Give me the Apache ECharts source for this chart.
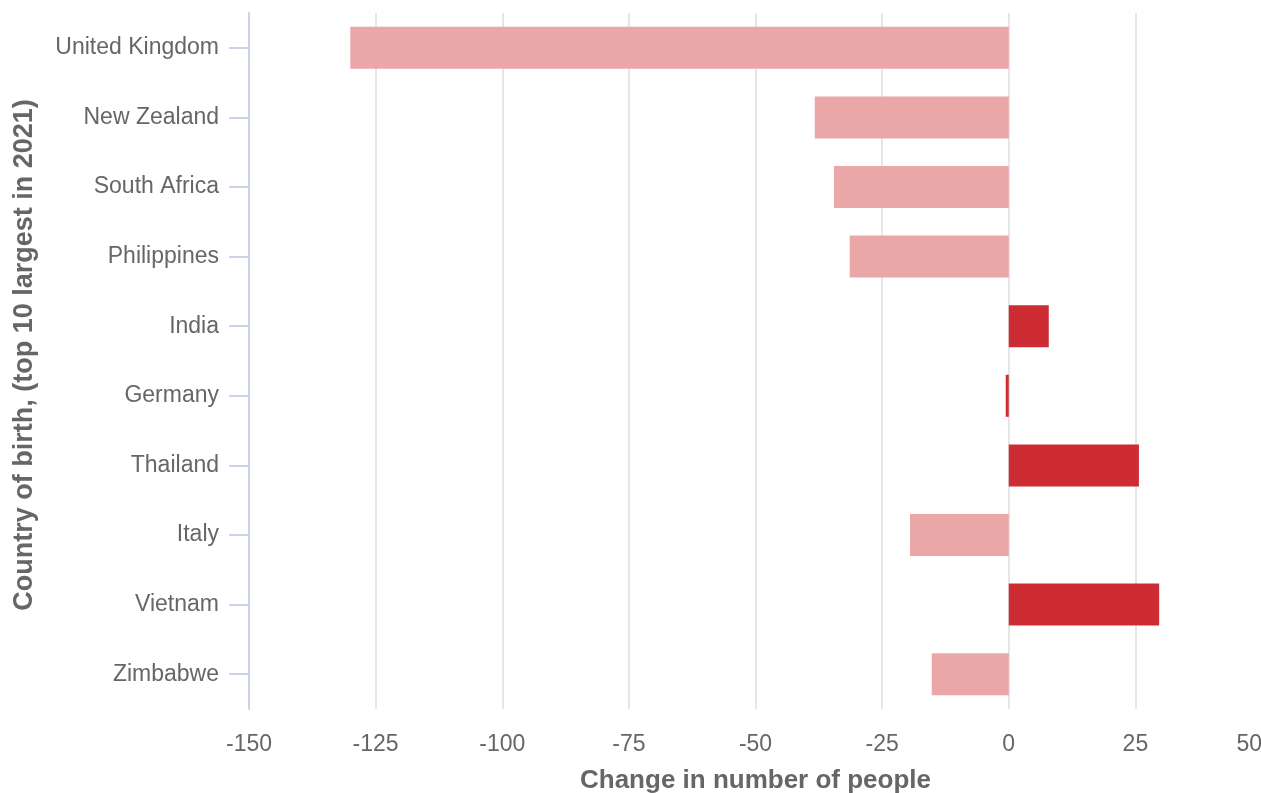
<!DOCTYPE html>
<html>
<head>
<meta charset="utf-8">
<script src="https://cdn.jsdelivr.net/npm/echarts@6/dist/echarts.min.js"></script>
<style>html,body{margin:0;padding:0;background:#fff}#c{width:1261px;height:793px}</style>
</head>
<body>
<div id="c"></div>
<script>
const categories = ['United Kingdom','New Zealand','South Africa','Philippines','India','Germany','Thailand','Italy','Vietnam','Zimbabwe'];
const values = [-130, -38.3, -34.5, -31.4, 7.9, -0.6, 25.7, -19.5, 29.7, -15.2];
const groups = ['down','down','down','down','up','up','up','down','up','down'];
const xTicks = {min: -150, max: 50, interval: 25};

const colorFor = {down: '#EBA6A8', up: '#CD2C32'};
const FONT = 'Arial, "Liberation Sans", sans-serif';
const chart = echarts.init(document.getElementById('c'), null, {renderer: 'canvas'});
chart.setOption({
  animation: false,
  grid: {left: 249, right: -1, top: 13, bottom: 84, containLabel: false, outerBoundsMode: 'none'},
  xAxis: {
    type: 'value', min: xTicks.min, max: xTicks.max, interval: xTicks.interval,
    axisLine: {show: false}, axisTick: {show: false},
    splitLine: {show: true, lineStyle: {color: '#e6e6e6', width: 2}},
    axisLabel: {color: '#666', fontSize: 23, margin: 24, fontFamily: FONT, alignMaxLabel: 'right'},
    name: 'Change in number of people', nameLocation: 'middle', nameGap: 59,
    nameTextStyle: {color: '#666', fontSize: 26, fontWeight: 'bold', fontFamily: FONT}
  },
  yAxis: {
    type: 'category', data: categories, inverse: true,
    axisLine: {show: true, onZero: false, lineStyle: {color: '#ccd3e8', width: 2}},
    axisTick: {show: true, length: 20, alignWithLabel: true, lineStyle: {color: '#ccd3e8', width: 2}},
    axisLabel: {color: '#666', fontSize: 23, margin: 30, fontFamily: FONT},
    splitLine: {show: false},
    name: 'Country of birth, (top 10 largest in 2021)', nameLocation: 'middle', nameGap: 211, nameRotate: 90,
    nameTextStyle: {color: '#666', fontSize: 27, fontWeight: 'bold', fontFamily: FONT, padding: [0, 0, 0, 12]}
  },
  series: [{
    type: 'bar', barWidth: 42,
    data: values.map((v, i) => ({value: v, itemStyle: {color: colorFor[groups[i]]}}))
  }]
});
</script>
</body>
</html>
